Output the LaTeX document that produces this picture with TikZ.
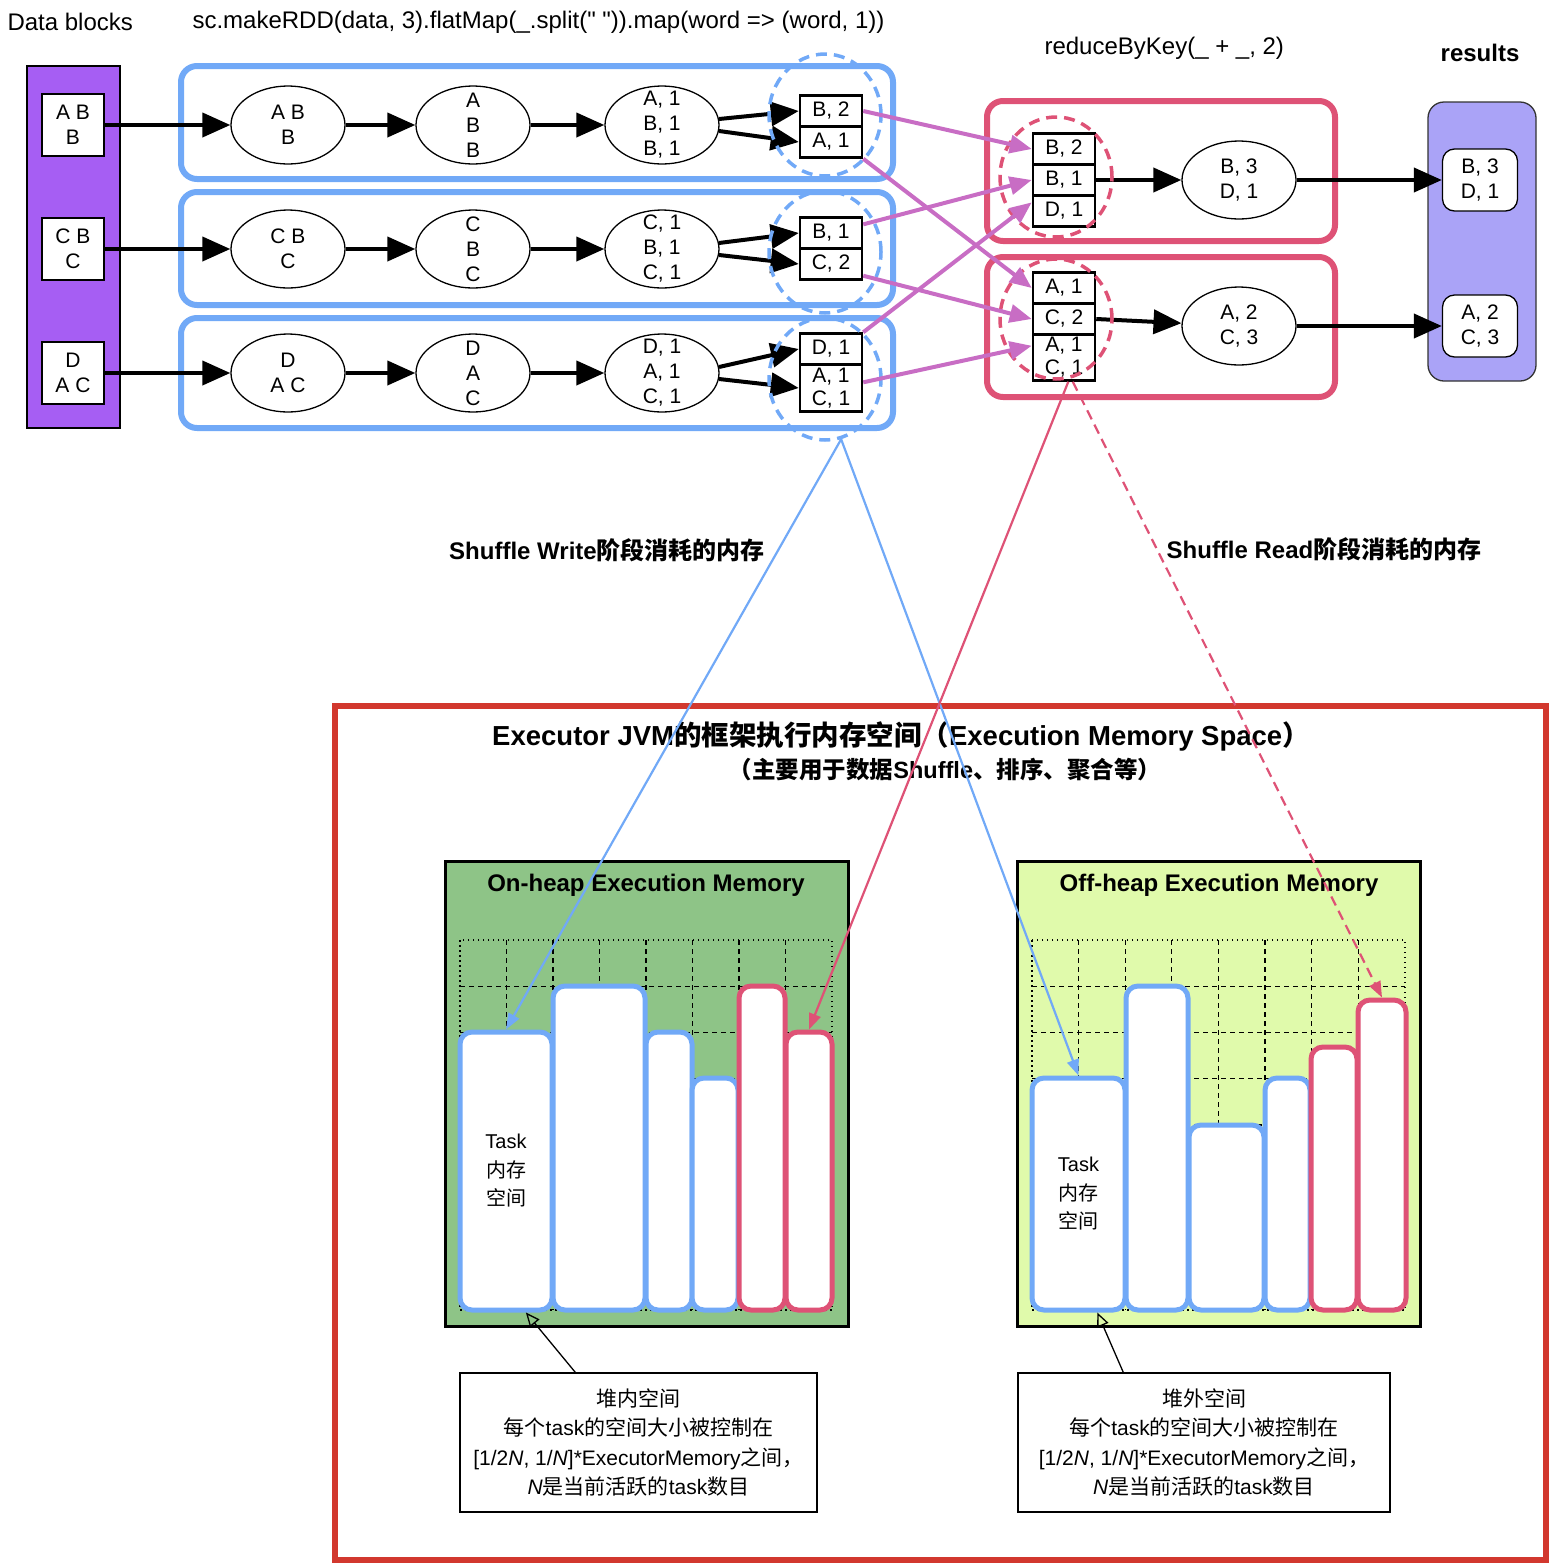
\documentclass[tikz,border=0pt]{standalone}
\usepackage{fontspec}
\setmainfont{Liberation Sans}
\newfontfamily\codefont{Liberation Sans}[Ligatures=ResetAll]
\newfontfamily\zhfont{Noto Sans CJK SC}
\newcommand{\zh}[1]{{\zhfont #1}}
\usepackage{xcolor}
\usepackage{tikz}
\usetikzlibrary{shapes,arrows.meta,positioning,calc}

\definecolor{partblue}{HTML}{71A9F7}
\definecolor{reducered}{HTML}{DE5276}
\definecolor{execred}{HTML}{D2382E}
\definecolor{shufpink}{HTML}{C86DC4}
\definecolor{blockpurple}{HTML}{A65EF3}
\definecolor{reslav}{HTML}{AAA3F7}
\definecolor{ongreen}{HTML}{8EC487}
\definecolor{offyellow}{HTML}{E0FAAB}

\tikzset{
  txt/.style={font=\fontsize{21pt}{25pt}\selectfont, align=center},
  datablk/.style={txt, draw, line width=1.5pt, fill=white, minimum width=62pt, minimum height=62pt, inner sep=0pt},
  rdd/.style={ellipse, draw, line width=1.3pt, fill=white, minimum width=114pt, minimum height=78pt, inner sep=0pt},
  cell/.style={txt, draw, line width=2.5pt, fill=white, minimum width=62pt, minimum height=31pt, inner sep=0pt},
  wpart/.style={draw=partblue, line width=6pt, rounded corners=16pt},
  rpart/.style={draw=reducered, line width=6pt, rounded corners=16pt},
  wring/.style={ellipse, draw=partblue, line width=3.5pt, dash pattern=on 11pt off 7pt, minimum width=112pt, minimum height=122pt},
  rring/.style={ellipse, draw=reducered, line width=3.5pt, dash pattern=on 11pt off 7pt, minimum width=112pt, minimum height=120pt},
  fat/.style={line width=4pt, -{Triangle[length=28pt, width=24pt]}},
  shuf/.style={draw=shufpink, line width=4pt, -{Triangle[length=22pt, width=18pt, fill=shufpink]}},
  resnode/.style={txt, draw, line width=1.3pt, fill=white, rounded corners=12pt, minimum width=75pt, minimum height=62pt},
  heap/.style={draw, line width=3pt},
  gridbox/.style={line width=1.3pt, dash pattern=on 1.5pt off 3.5pt},
  gridline/.style={line width=1.3pt, dash pattern=on 5pt off 4pt},
  task/.style={draw=partblue, line width=5pt, fill=white, rounded corners=12pt, inner sep=0pt, font=\fontsize{20pt}{28.5pt}\selectfont, align=center},
  rtask/.style={task, draw=reducered},
  mem/.style={line width=2.2pt, -{Triangle[length=16pt, width=12pt]}},
  memdash/.style={mem, dash pattern=on 10pt off 6pt},
  note/.style={draw, line width=1.3pt, fill=white, minimum height=139pt, align=center, font=\fontsize{21pt}{29.5pt}\selectfont},
  notearr/.style={line width=1.3pt, -{Triangle[open, length=14pt, width=12pt]}},
  lbl/.style={font=\fontsize{24pt}{28pt}\selectfont},
  title/.style={font=\bfseries\fontsize{24pt}{28pt}\selectfont},
}

\begin{document}
\begin{tikzpicture}[x=1pt, y=-1pt]
        \useasboundingbox (0,0) rectangle (1550,1564);

        % Labels on top
        \node[lbl, anchor=west] (lbldata) at (4,22) {Data blocks};
        \node[lbl, anchor=west] (lblrdd) at (189,22) {\codefont sc.makeRDD(data, 3).flatMap(\_.split(" ")).map(word => (word, 1))};
        \node[lbl, anchor=west] (lblreduce) at (1041,48) {reduceByKey(\_ + \_, 2)};
        \node[title] (lblres) at (1480,53) {results};

        % Data blocks
        \draw[line width=1.5pt, fill=blockpurple] (27,66) rectangle (120,428);
        \node[datablk] (d1) at (73,125) {A B\\B};
        \node[datablk] (d2) at (73,249) {C B\\C};
        \node[datablk] (d3) at (73,373) {D\\A C};

        % Map side partitions
        \draw[wpart] (181,66) rectangle (893,179);
        \draw[wpart] (181,192) rectangle (893,305);
        \draw[wpart] (181,318) rectangle (893,428);

        \node[rdd, label={[txt]center:{A B\\B}}] (a1) at (288,125) {};
        \node[rdd, label={[txt]center:{A\\B\\B}}] (b1) at (473,125) {};
        \node[rdd, label={[txt]center:{A, 1\\B, 1\\B, 1}}] (c1) at (662,125) {};
        \node[rdd, label={[txt]center:{C B\\C}}] (a2) at (288,249) {};
        \node[rdd, label={[txt]center:{C\\B\\C}}] (b2) at (473,249) {};
        \node[rdd, label={[txt]center:{C, 1\\B, 1\\C, 1}}] (c2) at (662,249) {};
        \node[rdd, label={[txt]center:{D\\A C}}] (a3) at (288,373) {};
        \node[rdd, label={[txt]center:{D\\A\\C}}] (b3) at (473,373) {};
        \node[rdd, label={[txt]center:{D, 1\\A, 1\\C, 1}}] (c3) at (662,373) {};

        % Shuffle write buckets
        \node[cell] (w1a) at (831,111) {B, 2};
        \node[cell] (w1b) at (831,142) {A, 1};
        \node[cell] (w2a) at (831,233) {B, 1};
        \node[cell] (w2b) at (831,264) {C, 2};
        \node[cell] (w3a) at (831,349) {D, 1};
        \node[cell, minimum height=47pt, font=\fontsize{21pt}{23pt}\selectfont] (w3b) at (831,388) {A, 1\\C, 1};

        % Reduce side partitions
        \draw[rpart] (987,101) rectangle (1335,241);
        \draw[rpart] (987,257) rectangle (1335,397);

        \node[cell] (r1a) at (1064,149) {B, 2};
        \node[cell] (r1b) at (1064,180) {B, 1};
        \node[cell] (r1c) at (1064,211) {D, 1};
        \node[cell] (r2a) at (1064,288) {A, 1};
        \node[cell] (r2b) at (1064,319) {C, 2};
        \node[cell, minimum height=46pt, font=\fontsize{21pt}{23pt}\selectfont] (r2c) at (1064,357.5) {A, 1\\C, 1};

        \node[rdd, label={[txt]center:{B, 3\\D, 1}}] (re1) at (1239,180) {};
        \node[rdd, label={[txt]center:{A, 2\\C, 3}}] (re2) at (1239,326) {};

        % Results
        \draw[line width=1.3pt, draw=black!80, fill=reslav, rounded corners=16pt] (1428,102) rectangle (1536,381);
        \node[resnode] (s1) at (1480,180) {B, 3\\D, 1};
        \node[resnode] (s2) at (1480,326) {A, 2\\C, 3};

        % Connections
        \draw[fat] (d1) -- (a1);
        \draw[fat] (a1) -- (b1);
        \draw[fat] (b1) -- (c1);
        \draw[fat] (c1.6) -- (w1a.west);
        \draw[fat] (c1.-6) -- (w1b.west);
        \draw[fat] (d2) -- (a2);
        \draw[fat] (a2) -- (b2);
        \draw[fat] (b2) -- (c2);
        \draw[fat] (c2.6) -- (w2a.west);
        \draw[fat] (c2.-6) -- (w2b.west);
        \draw[fat] (d3) -- (a3);
        \draw[fat] (a3) -- (b3);
        \draw[fat] (b3) -- (c3);
        \draw[fat] (c3.6) -- (w3a.west);
        \draw[fat] (c3.-6) -- (w3b.west);

        \draw[fat] (r1b.east) -- (re1);
        \draw[fat] (r2b.east) -- (re2);
        \draw[fat] (re1) -- (s1);
        \draw[fat] (re2) -- (s2);

        % Dashed rings
        \node[wring] (wc1) at (825,115) {};
        \node[wring] (wc2) at (825,252) {};
        \node[wring] (wc3) at (825,379) {};
        \node[rring] (rc1) at (1056,177) {};
        \node[rring] (rc2) at (1056,319) {};

        % Shuffle
        \draw[shuf] (w1a.east) -- (r1a.west);
        \draw[shuf] (w1b.south east) -- (r2a.west);
        \draw[shuf] (w2a.15) -- (r1b.west);
        \draw[shuf] (w2b.-20) -- (r2b.west);
        \draw[shuf] (w3a.north east) -- (r1c.165);
        \draw[shuf] (w3b.10) -- (r2c.160);

        % Executor
        \draw[line width=6pt, draw=execred] (335,706) rectangle (1546,1560);
        \node[font=\bfseries\fontsize{27.5pt}{32pt}\selectfont] (exectitle) at (901,736) {Executor JVM\zh{的框架执行内存空间（}Execution Memory Space\zh{）}};
        \node[font=\bfseries\fontsize{23.5pt}{28pt}\selectfont] (execsub) at (945,770) {\zh{（主要用于数据}Shuffle\zh{、排序、聚合等）}};

        % On-heap
        \draw[heap, fill=ongreen] (445,861) rectangle (848,1326);
        \node[title] (ontitle) at (646,885) {On-heap Execution Memory};
        \draw[gridbox] (460,940) rectangle (832,1310);
        \foreach \i in {1,...,7} {
            \draw[gridline] ({460+46.5*\i},940) -- ({460+46.5*\i},1310);
            \draw[gridline] (460,{940+46.25*\i}) -- (832,{940+46.25*\i});
        }
        \node[task, minimum width=92pt, minimum height=278pt] (on1) at (506,1171) {Task\\\zh{内存}\\\zh{空间}};
        \node[task, minimum width=92pt, minimum height=324pt] (on2) at (599,1148) {};
        \node[task, minimum width=46pt, minimum height=278pt] (on3) at (669,1171) {};
        \node[task, minimum width=46pt, minimum height=232pt] (on4) at (715,1194) {};
        \node[rtask, minimum width=46pt, minimum height=324pt] (on5) at (762,1148) {};
        \node[rtask, minimum width=46pt, minimum height=278pt] (on6) at (809,1171) {};

        % Off-heap
        \draw[heap, fill=offyellow] (1017,861) rectangle (1420,1326);
        \node[title] (offtitle) at (1219,885) {Off-heap Execution Memory};
        \draw[gridbox] (1032,940) rectangle (1405,1310);
        \foreach \i in {1,...,7} {
            \draw[gridline] ({1032+46.6*\i},940) -- ({1032+46.6*\i},1310);
            \draw[gridline] (1032,{940+46.25*\i}) -- (1405,{940+46.25*\i});
        }
        \node[task, minimum width=93pt, minimum height=232pt] (off1) at (1078.5,1194) {Task\\\zh{内存}\\\zh{空间}};
        \node[task, minimum width=62pt, minimum height=324pt] (off2) at (1157,1148) {};
        \node[task, minimum width=75pt, minimum height=185pt] (off3) at (1226.5,1217.5) {};
        \node[task, minimum width=45pt, minimum height=232pt] (off4) at (1287.5,1194) {};
        \node[rtask, minimum width=46pt, minimum height=263pt] (off5) at (1334,1178.5) {};
        \node[rtask, minimum width=48pt, minimum height=310pt] (off6) at (1382,1155) {};

        % Notes
        \node[note, minimum width=357pt] (onnote) at (638.5,1442.5) {\zh{堆内空间}\\\zh{每个}task\zh{的空间大小被控制在}\\{}[1/2\textit{N}, 1/\textit{N}]*ExecutorMemory\zh{之间，}\\\textit{N}\zh{是当前活跃的}task\zh{数目}};
        \node[note, minimum width=372pt] (offnote) at (1204,1442.5) {\zh{堆外空间}\\\zh{每个}task\zh{的空间大小被控制在}\\{}[1/2\textit{N}, 1/\textit{N}]*ExecutorMemory\zh{之间，}\\\textit{N}\zh{是当前活跃的}task\zh{数目}};
        \draw[notearr] (onnote.132) -- (on1.-82);
        \draw[notearr] (offnote.139) -- (off1.-81);

        % Memory used by shuffle
        \node[title] (wlbl) at (607,550) {Shuffle Write\zh{阶段消耗的内存}};
        \node[title] (rlbl) at (1324,549) {Shuffle Read\zh{阶段消耗的内存}};
        \draw[mem, partblue] (wc3.-75) -- (on1.north);
        \draw[mem, partblue] (wc3.-75) -- (off1.north);
        \draw[mem, reducered] (r2c.-80) -- (on6.north);
        \draw[memdash, reducered] (r2c.-70) -- (off6.north);
    \end{tikzpicture}
\end{document}
